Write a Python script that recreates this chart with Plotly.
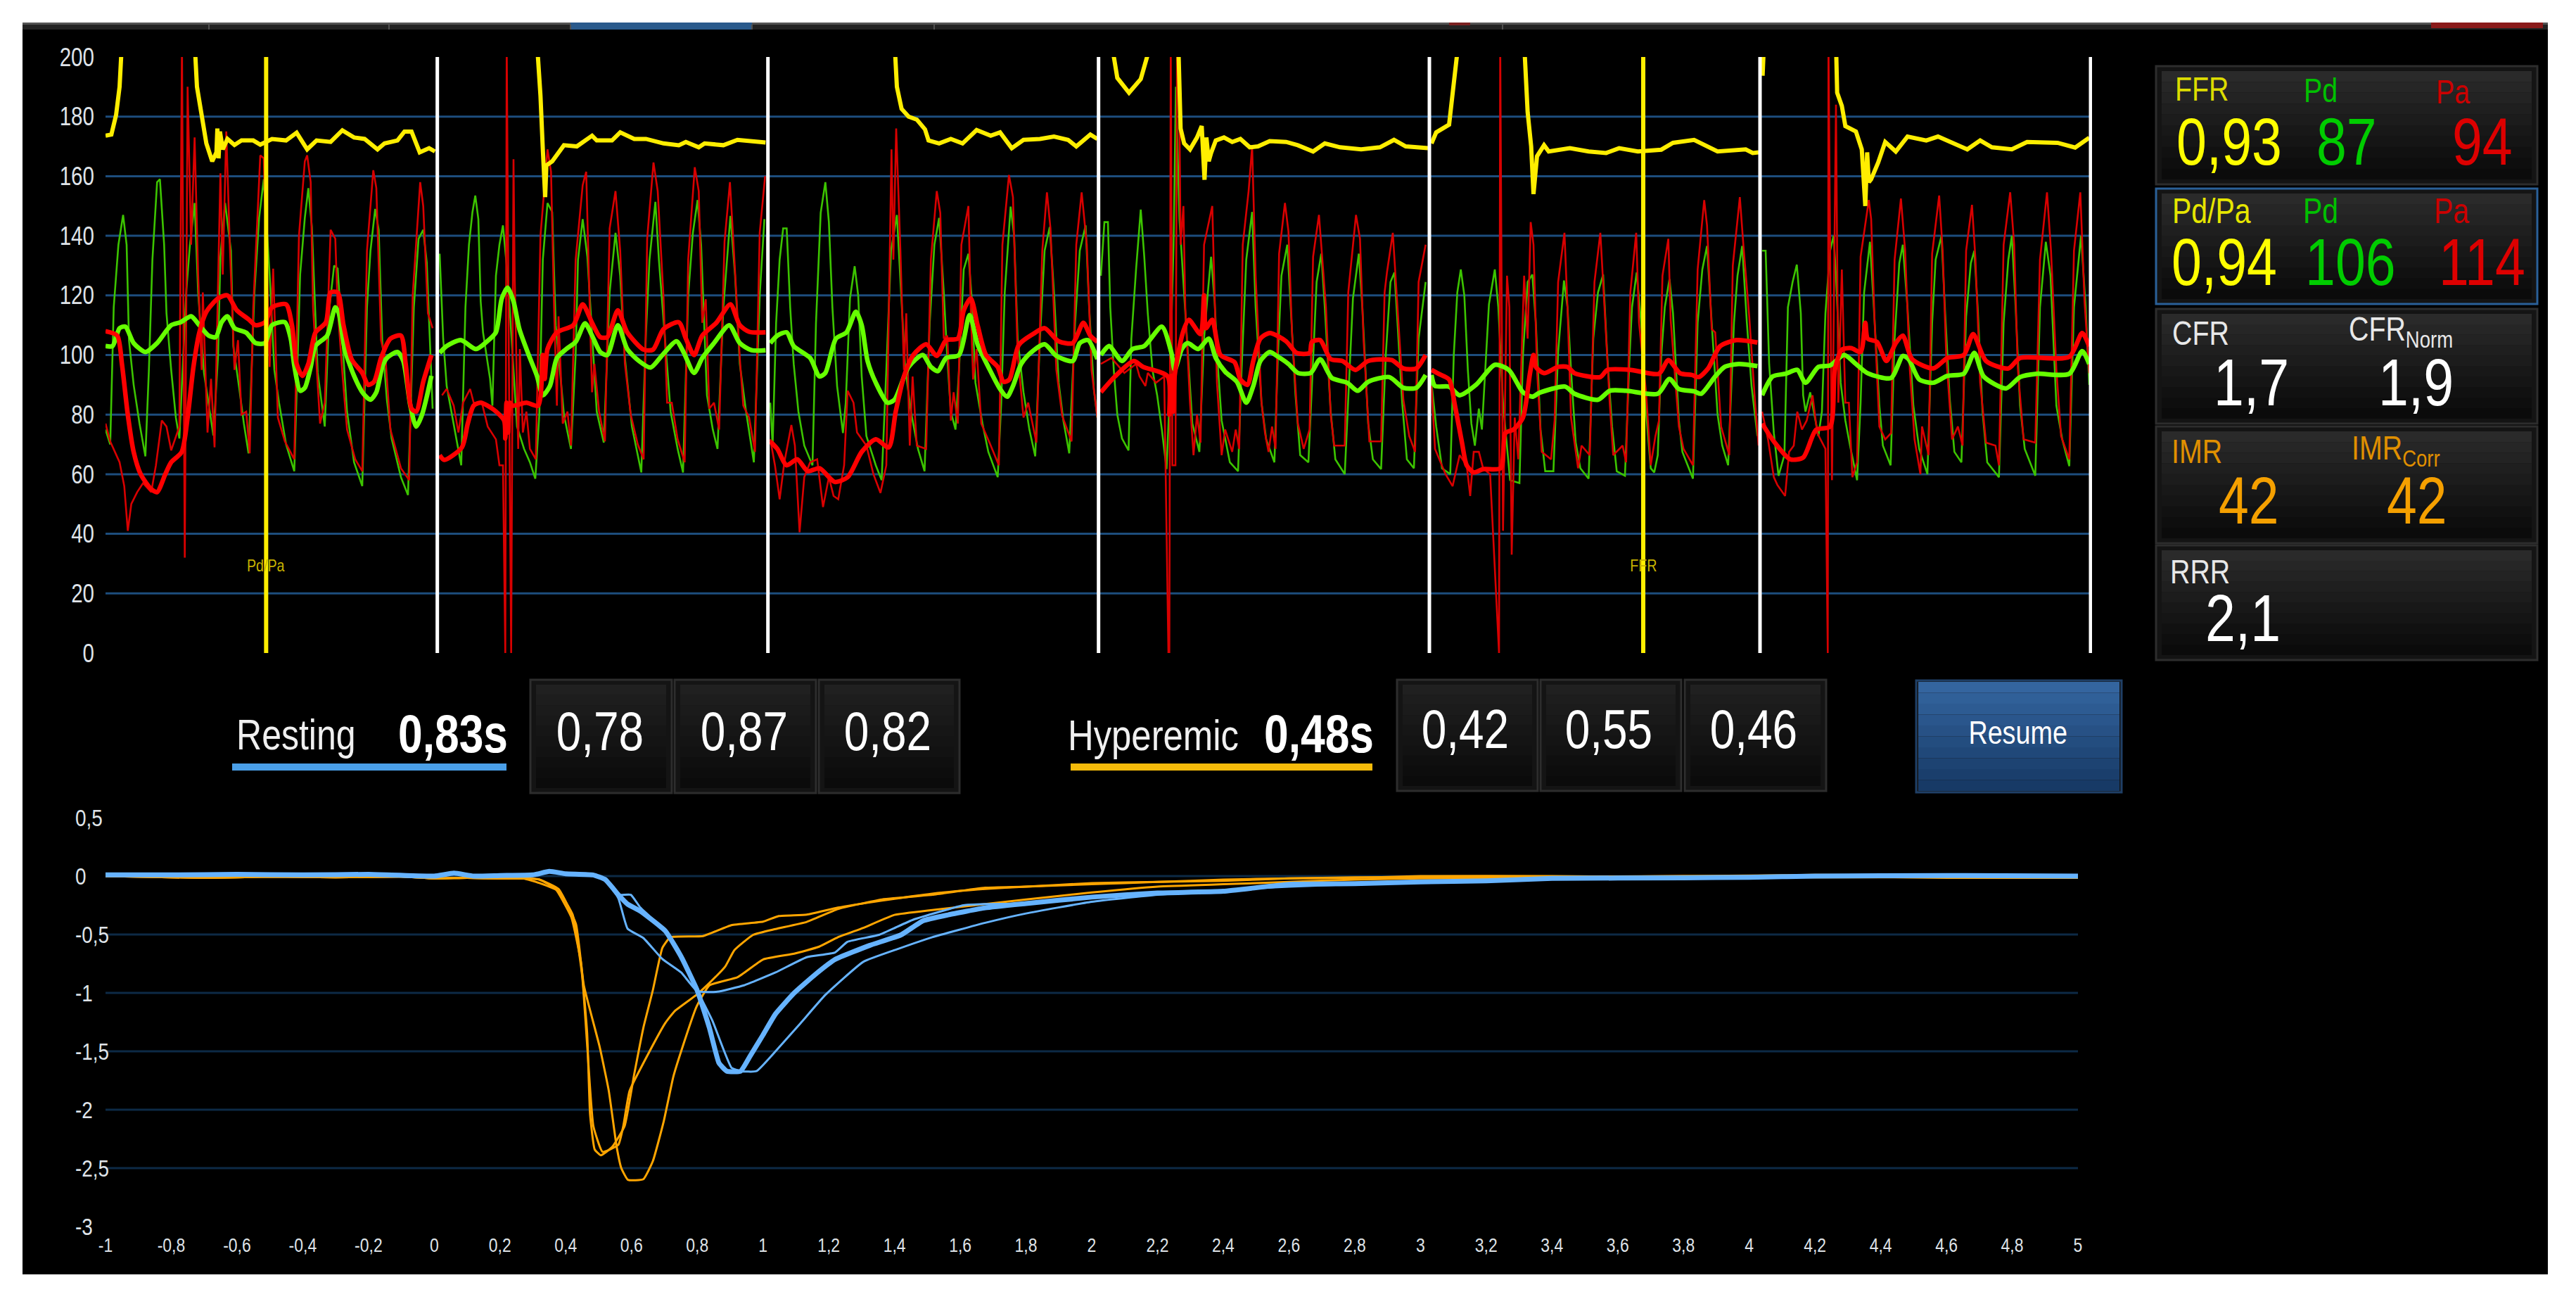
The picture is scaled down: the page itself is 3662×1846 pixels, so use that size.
import plotly.graph_objects as go

W, H = 3662, 1846
FONT = "Liberation Sans, Arial"

# ---------- pressure strip (x = sample number within a 10 s recording, y = mmHg) ----------
SEG_START = [0, 1425, 2835, 4245, 5655, 7065]
WHITE_SAMPLES = [1445, 2855, 4265, 5676, 7086, 8496]
MARKER_SAMPLES = [715, 6588]
MARKER_LABELS = ["Pd/Pa", "FFR"]
Y_TICKS = [0, 20, 40, 60, 80, 100, 120, 140, 160, 180, 200]
Y_GRID = [20, 40, 60, 80, 100, 120, 140, 160, 180]

S1_PD = [(30,75),(50,70),(65,116),(85,137),(105,147),(120,137),(130,105),(150,90),(175,77),(200,66),(215,95),(230,132),(250,158),(262,159),(280,137),(290,114),(310,95),(330,79),(345,72),(375,122),(390,137),(410,151),(425,121),(450,94),(490,73),(510,100),(520,133),(540,151),(565,135),(575,103),(600,89),(620,77),(640,67),(665,121),(685,146),(705,159),(730,127),(750,95),(770,84),(800,70),(835,61),(860,127),(880,146),(895,156),(910,143),(935,94),(965,76),(985,116),(1005,130),(1020,129),(1040,105),(1060,81),(1090,64),(1125,56),(1145,116),(1160,135),(1180,149),(1195,142),(1210,105),(1230,85),(1250,72),(1290,59),(1320,53),(1345,116),(1365,139),(1385,142),(1400,131),(1425,82)]
S1_PA = [(30,77),(50,71),(90,64),(110,56),(125,41),(140,50),(165,54),(190,57),(225,54),(245,63),(270,78),(290,76),(310,68),(345,76),(356,205),(368,32),(380,190),(395,137),(410,173),(425,127),(440,95),(445,121),(465,74),(480,92),(495,69),(520,161),(530,127),(545,175),(560,137),(580,95),(595,105),(610,80),(630,81),(645,67),(660,116),(690,167),(705,166),(720,120),(730,96),(745,129),(765,79),(795,71),(835,65),(855,140),(880,165),(890,167),(905,158),(915,116),(945,77),(965,84),(990,142),(1010,139),(1020,116),(1040,94),(1060,75),(1095,65),(1125,61),(1145,135),(1172,162),(1185,156),(1205,105),(1225,98),(1245,75),(1290,62),(1325,58),(1340,120),(1372,158),(1385,150),(1405,114),(1425,109)]
S1_PD_MEAN = [(30,103),(60,103),(90,109),(115,109.5),(150,104),(200,101),(250,104),(310,110),(350,111),(395,113),(430,110),(470,106.5),(500,106),(525,111),(550,113),(580,109),(630,107.5),(670,104),(710,104),(740,110),(795,111),(820,105.5),(835,96.5),(860,88),(880,89),(905,96),(925,103),(975,106.5),(1010,116),(1025,114),(1050,102),(1090,93),(1130,87),(1160,85),(1185,87.5),(1210,96),(1230,99),(1275,101),(1300,98),(1330,83),(1355,76),(1380,80),(1420,93)]
S1_PA_MEAN = [(30,108),(80,106.5),(100,97),(125,80),(150,67.5),(180,60),(225,55),(250,54),(285,60),(310,64),(355,67.5),(380,79),(405,96),(430,107.5),(460,114.5),(510,119),(550,120),(590,115),(640,112),(670,110),(710,111),(740,116),(800,117),(825,110),(845,97),(870,93),(895,97),(925,107.5),(970,111),(990,121),(1020,121),(1045,110),(1080,98.5),(1125,94),(1150,90),(1175,91),(1205,99),(1245,105.5),(1290,106.5),(1310,97),(1335,82),(1355,81),(1385,91),(1420,100)]
S1_RATIO = [(30,173.6),(55,174),(75,180.5),(90,190),(100,205),(410,205),(420,190),(440,180.5),(460,171),(485,165),(503,168),(507,176),(512,166),(518,175),(530,169),(550,172.5),(580,170.5),(610,172),(660,172),(690,170.6),(740,172.5),(800,172),(845,174.6),(890,169),(930,172),(990,171.5),(1040,175.4),(1090,173),(1135,172.5),(1190,169),(1220,171),(1275,172),(1305,175),(1335,175),(1370,168),(1410,169.4),(1435,168.3)]

S2_PD = [(30,134),(45,105.5),(60,89.6),(80,81),(100,71.7),(122,63),(140,116),(155,137),(170,148),(182,153.5),(195,145.6),(205,118),(215,107.6),(230,100),(245,92),(255,83),(270,126.6),(285,137),(300,143.5),(320,126.6),(345,95),(360,76),(390,68.5),(415,64),(438,58.5),(455,80),(470,132),(490,151),(510,148),(525,110),(545,93),(560,80),(590,68.5),(610,100),(620,132),(640,145.6),(660,133),(680,105.5),(700,81),(730,70.6),(755,121),(780,141),(800,126.6),(820,99),(850,76),(890,60.6),(910,107.6),(925,132),(950,151.4),(965,132),(990,105.5),(1015,81),(1045,68.5),(1068,60.6),(1090,120),(1110,141),(1130,152),(1145,137),(1170,86.5),(1195,75),(1215,68.5),(1240,116),(1270,146.7),(1290,126.6),(1310,97),(1335,82),(1370,64),(1395,120),(1415,145.6)]
S2_PA = [(40,86.5),(60,88.6),(90,83),(110,74),(130,84),(160,88.6),(175,84),(210,84),(235,76),(270,71.7),(285,63),(300,63),(310,0),(316,205),(325,100),(335,0),(345,165.7),(350,126.6),(365,68.5),(372,102),(385,74),(400,81),(415,68.5),(440,65),(460,140),(490,169),(505,161.5),(518,116),(530,83),(537,113),(555,77),(575,81),(590,69.6),(610,132),(640,157),(655,161.5),(670,116),(680,87.5),(690,97),(710,81),(735,71),(755,142.5),(780,155),(800,135),(820,97),(845,80),(875,70),(900,65),(915,139),(942,164.6),(960,155),(985,119),(1000,84),(1020,84),(1045,71.7),(1075,64),(1090,132),(1118,163),(1135,155),(1150,110.8),(1165,118.7),(1180,82),(1200,84),(1222,75),(1245,138),(1268,158),(1285,135),(1310,99),(1325,83),(1350,79),(1375,67.5),(1395,141),(1418,160)]
S2_PD_MEAN = [(30,100.7),(60,103),(120,105),(185,102),(230,104.4),(270,107.6),(295,119),(320,122.6),(345,118),(370,108.7),(410,100),(445,93),(470,86.5),(500,89.6),(530,99),(570,102),(610,104.4),(650,110.6),(680,106.5),(715,101),(745,100),(790,110),(830,102),(880,98),(930,95.8),(980,100),(1040,104.6),(1070,101),(1115,94),(1150,99),(1200,104),(1265,110),(1310,104),(1360,101.6),(1420,101.6)]
S2_PA_MEAN = [(30,66.4),(50,64.8),(125,69),(150,77),(175,83),(205,84),(260,81.7),(305,78),(310,72),(315,84),(322,74),(330,84),(340,83),(400,84),(450,83),(470,100),(478,92),(490,102),(530,107.6),(600,110),(640,117),(680,110.8),(715,106),(745,106),(790,115),(830,107.6),(900,101.8),(940,101.8),(985,108.7),(1050,111),(1080,105.5),(1115,100),(1150,106.5),(1210,110.8),(1270,117),(1310,110),(1350,107.8),(1420,107.6)]
S2_RATIO = [(445,205),(460,187),(470,169),(480,153),(485,163.6),(510,165),(560,170.4),(615,170),(680,173.6),(700,172),(765,172),(800,174.7),(860,172.5),(910,172.5),(985,171),(1050,170.4),(1080,171.5),(1135,169.7),(1160,171),(1240,170.4),(1300,172.2),(1330,172),(1420,171.3)]

S3_PD = [(30,84),(40,69.6),(55,110.8),(70,132),(85,142.5),(100,142.5),(115,116),(130,97),(150,81),(175,69.6),(210,63),(225,110.8),(245,147.7),(265,158),(280,144.6),(295,116),(315,89.6),(340,73.8),(352,84),(370,119),(390,129.8),(405,120),(420,92.8),(440,72.8),(480,63),(505,58),(525,95),(545,135),(570,147),(590,116),(605,96),(630,81),(660,68.5),(688,61),(710,110.8),(730,137),(750,146),(770,121),(785,99),(800,81),(820,75),(835,95),(855,128.7),(875,134),(890,118),(905,90.7),(935,77),(960,67.5),(1000,59),(1015,84),(1030,121),(1055,149.8),(1070,140),(1085,105.5),(1110,87.5),(1135,75),(1160,66),(1180,105.5),(1200,135),(1222,143),(1240,121),(1260,90.7),(1280,78),(1305,67),(1330,110.8),(1350,135),(1375,143.5),(1390,116),(1410,88.6),(1425,79)]
S3_PA = [(30,71.7),(50,63),(70,51.6),(90,64),(120,76.5),(135,69.6),(155,40.5),(175,59),(200,64),(230,65),(255,49),(280,59),(300,52.7),(320,51.6),(345,63),(360,88),(385,84),(400,74),(440,69.6),(470,60),(500,53.7),(525,63),(547,169),(555,132),(567,176),(585,135),(600,95),(610,114),(625,69.6),(637,92.8),(655,69.6),(695,68.5),(715,132),(740,155),(755,147.7),(770,105.5),(785,106.5),(800,78),(812,87.5),(830,77),(845,137),(875,150),(885,116),(895,91.8),(910,102),(930,77),(965,70.6),(1005,63),(1020,137),(1048,160.4),(1065,153),(1085,100),(1110,79),(1130,84),(1165,70.6),(1190,135),(1210,154.6),(1225,142.5),(1250,95),(1275,79.6),(1315,71),(1335,137),(1358,154.6),(1380,137),(1400,95),(1425,79)]
S3_PD_MEAN = [(30,104),(60,106.5),(100,107.6),(130,103),(200,99),(240,92.8),(265,94),(310,105.5),(355,107.6),(395,114.5),(420,110),(445,98),(480,90.7),(530,84),(560,85),(620,96),(680,100),(715,96),(745,94.6),(780,99),(835,100),(880,113.4),(915,103.4),(960,96),(1010,88.6),(1040,86),(1065,89.6),(1100,97),(1140,100.7),(1200,103.6),(1250,99.7),(1320,98),(1350,104),(1385,105),(1425,98.6)]
S3_PA_MEAN = [(30,71),(60,68.5),(100,63),(145,65),(190,61),(240,62),(305,57.4),(360,59),(420,67.5),(480,71.7),(535,69),(565,81),(600,92.8),(640,100),(695,103.6),(740,99.7),(780,105),(830,105.5),(855,115),(885,119),(915,109.7),(950,100),(1000,96),(1025,91),(1050,91.8),(1090,103.4),(1150,107),(1200,109),(1260,104.6),(1320,104),(1365,110.8),(1395,106.5),(1425,104.4)]
S3_RATIO = [(560,205),(570,190),(590,182.6),(620,180),(655,179),(690,175.7),(705,172),(750,171),(800,172.5),(850,171),(910,175.5),(970,173.6),(1010,174.7),(1060,169.4),(1110,172.2),(1180,172.5),(1240,173.3),(1300,172.2),(1335,170),(1395,174),(1425,172.5)]

S4_PD = [(30,126.6),(45,144.6),(60,144.6),(70,116),(85,95),(100,80),(120,72),(148,68),(160,105.5),(180,128.7),(200,148.8),(215,133),(230,114),(250,95),(270,86.5),(290,75),(310,61.7),(320,80),(340,137),(350,190),(365,145.6),(385,121),(405,95),(420,77),(450,67.5),(470,105.5),(485,120),(500,133),(515,118),(530,95),(545,78),(580,64),(615,61),(630,95),(650,132),(675,148),(690,116),(715,84),(735,71.7),(770,64),(785,100),(800,126.6),(825,137),(840,116),(860,86.5),(880,66.4),(915,64),(930,89.6),(950,124.5),(970,134),(985,116),(1010,81),(1030,65),(1070,60),(1085,86.5),(1105,119),(1130,134),(1145,116),(1170,77),(1190,65),(1225,61.7),(1245,100),(1265,124.5),(1282,127.7),(1295,110.8),(1315,84),(1335,65),(1365,62),(1385,105.5),(1415,124.5)]
S4_PA = [(30,97),(75,99),(130,94),(180,97),(195,92.8),(220,89.6),(230,94),(265,90.7),(300,92.8),(318,0),(322,0),(328,205),(335,63),(348,63),(355,205),(362,205),(370,137),(382,150),(390,116),(410,84),(425,66.4),(440,80),(455,70.6),(470,137),(505,150),(515,118),(525,90.7),(545,66.4),(560,75),(590,67.5),(605,75),(620,68.5),(635,137),(660,155),(675,170),(690,126.6),(715,84),(730,73.8),(745,67.5),(760,76),(775,68.5),(790,134),(815,151),(830,141.4),(845,107.6),(870,77),(895,68.5),(920,75),(935,133),(960,147),(975,132),(990,116),(1010,80),(1025,69.6),(1070,69.6),(1085,121),(1118,147),(1135,139),(1150,105.5),(1175,71),(1225,71),(1240,121),(1250,127.7),(1275,141),(1295,116),(1320,85),(1345,72.8),(1370,67.5),(1385,124.5),(1415,137)]
S4_PD_MEAN = [(30,100),(65,103),(120,98),(165,102),(215,103),(290,109.5),(330,101),(345,95),(375,102),(400,104),(445,102),(490,105.5),(520,99),(560,94.4),(610,91),(650,84),(680,89.6),(710,98),(750,101),(780,99.7),(830,97),(870,94),(925,94),(965,98.6),(1015,92.3),(1080,90.7),(1125,88),(1170,91),(1260,92.6),(1320,89),(1375,89),(1415,93.3)]
S4_PA_MEAN = [(30,87.5),(90,92.8),(170,98),(210,96),(315,92.8),(322,80),(330,93),(338,81),(345,93.3),(380,107.6),(405,111.8),(455,107),(470,120),(478,109),(505,111.8),(540,100),(600,97.6),(625,91.8),(655,90),(680,98),(710,105.5),(750,107.4),(820,104.6),(865,100.7),(920,100.7),(930,104.4),(965,105),(1010,98.6),(1060,98),(1115,95),(1170,98),(1270,98.3),(1320,95.5),(1375,95.5),(1415,100)]
S4_RATIO = [(75,205),(100,193),(150,188),(200,192.6),(245,205),(360,205),(370,176),(385,171),(410,169),(440,173),(460,176.8),(472,158.8),(480,173),(490,165),(500,167.8),(520,172),(555,173),(590,171.5),(625,172.5),(665,169.7),(700,170),(750,171.8),(820,171.5),(870,170.4),(935,168.3),(985,171),(1050,169.7),(1140,169),(1220,169.7),(1280,172.2),(1330,170),(1400,169.4),(1425,169.4)]

S5_PD = [(30,90.7),(50,76),(75,62),(110,60),(125,100),(140,121),(155,128.7),(170,120),(185,95),(200,77),(215,69.6),(232,82),(245,75),(260,95),(275,117),(300,128.7),(315,116),(335,84),(365,58),(405,57),(420,100),(440,124.5),(460,127),(475,110.8),(495,75),(515,61),(550,61),(570,101),(595,125),(610,116),(625,95),(645,70.6),(665,62),(700,58.5),(720,105.5),(740,121),(762,127),(780,99),(800,76),(820,61),(855,59.5),(875,100),(885,116),(905,127.7),(925,110),(945,81),(965,62),(980,60.6),(995,66.4),(1010,100),(1025,116),(1045,125.5),(1060,114),(1085,78),(1100,67.5),(1145,58.5),(1165,110.8),(1185,128.7),(1205,136.6),(1225,110.8),(1250,80),(1270,69.6),(1295,63),(1320,110.8),(1335,126.6),(1355,136.6),(1375,110.8),(1395,89.6),(1420,72.8)]
S5_PA = [(30,89.6),(45,68.5),(90,60),(120,56),(150,66.4),(180,63),(195,52.7),(210,67.5),(232,67.5),(250,62),(280,60),(318,0),(323,205),(335,41),(352,126.6),(362,116),(372,33),(385,79),(400,65),(425,126.6),(440,105.5),(453,144.6),(465,137),(480,95),(500,67.5),(540,65),(555,78),(570,124.5),(597,141),(610,116),(625,79),(655,62),(670,69.6),(705,66.4),(725,124.5),(750,141),(770,113),(790,84),(805,66.4),(845,69.6),(860,64),(878,121),(903,141),(915,110.8),(945,87.5),(965,63),(985,72.8),(1000,78),(1015,126.6),(1040,139),(1050,111.8),(1085,76),(1105,68.5),(1145,63),(1165,128.7),(1193,152),(1205,143.5),(1225,108.7),(1240,107.6),(1265,76),(1300,66.4),(1315,130),(1345,153),(1360,137),(1385,113),(1410,84),(1425,69.6)]
S5_PD_MEAN = [(30,93.3),(45,89.6),(105,89.4),(150,86.5),(220,90),(300,96.7),(360,95),(420,87.5),(460,86),(490,87.3),(600,89.4),(640,87),(740,85),(790,88),(860,88),(995,87),(1045,92),(1085,88.6),(1150,87.8),(1180,87),(1240,92.8),(1280,96),(1340,97),(1420,96.3)]
S5_PA_MEAN = [(30,95),(60,93.7),(105,91.8),(130,83),(160,70.6),(180,63),(210,60.6),(250,61.7),(325,62),(345,73.8),(380,75),(420,79),(450,93.9),(465,100),(475,96),(510,93.9),(570,96),(610,96),(640,93.9),(750,92.6),(780,95),(880,95),(1000,93.7),(1040,98.3),(1090,93.9),(1140,93.3),(1170,92.6),(1210,95.5),(1260,102.9),(1330,105),(1420,104.2)]
S5_RATIO = [(30,171),(50,174.7),(105,177.3),(120,186.8),(145,205),(425,205),(440,181.5),(455,170),(465,154),(480,166.7),(510,170.4),(530,168.3),(620,169.4),(700,168.3),(775,167.8),(830,169.4),(910,168.3),(1010,168.9),(1060,171.2),(1150,172.2),(1250,168.3),(1370,169),(1400,167.8),(1425,168)]

S6_PD = [(30,135),(45,135),(60,97),(80,73.8),(100,59.5),(125,66.4),(140,116),(160,124.5),(178,130.3),(195,114),(205,86.5),(215,81),(235,87.5),(270,72.8),(285,81),(300,114),(320,135),(335,140),(345,126.6),(365,90.7),(385,78),(405,69.6),(435,58),(450,84),(465,121),(490,138),(505,118),(530,83),(545,69.6),(578,63),(595,105.5),(615,130.8),(630,137),(650,116),(675,83),(700,68.5),(735,60),(755,110.8),(770,132),(795,140),(810,115),(830,85.4),(850,67.5),(880,64),(900,112.9),(920,130.8),(935,135),(950,115),(970,81),(990,64),(1040,59),(1060,110.8),(1080,132),(1095,140),(1110,118),(1130,83),(1150,68.5),(1195,59.5),(1215,116),(1240,138),(1260,126.6),(1285,83),(1310,71.7),(1340,62.7),(1360,116),(1390,140),(1410,116),(1425,90)]
S6_PA = [(30,81),(55,71.7),(80,59),(95,56.4),(128,52.7),(145,67.5),(165,69.6),(180,81),(200,75),(220,78),(245,86.5),(265,73.8),(300,68.5),(310,0),(313,205),(328,58),(345,184),(355,84),(370,128.7),(385,84),(400,84),(415,59),(435,64),(450,133),(485,152),(495,145.6),(510,110.8),(530,76),(555,71.7),(580,73.8),(595,132),(622,152.5),(640,135),(660,95),(680,71.7),(705,60),(712,76),(740,66.4),(755,134),(785,153.5),(800,135),(815,100),(840,71.7),(865,76),(885,69.6),(900,135),(925,150.4),(940,132),(960,90.7),(985,70.6),(1025,69.6),(1040,63),(1060,137),(1088,154.6),(1105,137),(1120,96),(1145,71.7),(1195,70.6),(1215,132),(1245,154.6),(1262,135),(1285,95),(1305,72.8),(1340,65),(1360,135),(1387,154.6),(1405,118),(1425,93.9)]
S6_PD_MEAN = [(30,86.5),(75,92.8),(130,93.7),(180,95),(215,90.7),(270,96),(320,96.5),(380,100),(430,97),(480,93.9),(580,92.3),(630,99.7),(655,98.6),(700,91.8),(760,90.7),(820,93),(890,93.7),(935,100.7),(975,92.8),(1070,88.8),(1130,92.6),(1200,93.7),(1340,93.7),(1395,101.3),(1425,97)]
S6_PA_MEAN = [(30,77),(80,71),(150,65),(205,65.6),(260,74.9),(320,76),(340,95),(370,101.8),(410,102.3),(450,101),(470,110.8),(480,105.5),(520,104.4),(560,98),(600,104),(630,106.5),(670,98.6),(760,95.5),(820,99),(890,100),(930,107),(985,98),(1080,95.5),(1130,99),(1340,99.4),(1395,107.4),(1425,102.9)]
S6_RATIO = [(32,193.7),(38,205),(320,205),(345,205),(350,188),(370,183.6),(385,176.8),(430,175),(455,169),(470,150),(478,168),(485,158),(495,159),(525,164.6),(555,171.5),(600,168.3),(650,173.3),(730,172),(780,173.3),(850,171),(905,169),(960,172),(1010,169.7),(1095,169),(1160,171.5),(1290,171.2),(1365,169.6),(1425,172.9)]

PD_THIN = [S1_PD, S2_PD, S3_PD, S4_PD, S5_PD, S6_PD]
PA_THIN = [S1_PA, S2_PA, S3_PA, S4_PA, S5_PA, S6_PA]
PD_MEAN = [S1_PD_MEAN, S2_PD_MEAN, S3_PD_MEAN, S4_PD_MEAN, S5_PD_MEAN, S6_PD_MEAN]
PA_MEAN = [S1_PA_MEAN, S2_PA_MEAN, S3_PA_MEAN, S4_PA_MEAN, S5_PA_MEAN, S6_PA_MEAN]
RATIO = [S1_RATIO, S2_RATIO, S3_RATIO, S4_RATIO, S5_RATIO, S6_RATIO]

# ---------- thermodilution curves (x = seconds, y = relative value) ----------
X2_TICKS = [-1,-0.8,-0.6,-0.4,-0.2,0,0.2,0.4,0.6,0.8,1,1.2,1.4,1.6,1.8,2,2.2,2.4,2.6,2.8,3,3.2,3.4,3.6,3.8,4,4.2,4.4,4.6,4.8,5]
Y2_TICKS = [0.5,0,-0.5,-1,-1.5,-2,-2.5,-3]
Y2_GRID = [0,-0.5,-1,-1.5,-2,-2.5]

HYP_TAIL_A = [(1.8,-.09),(2,-.07),(2.2,-.05),(2.4,-.04),(2.6,-.02),(2.8,-.01),(3,-.01),(3.4,-.005),(3.8,0),(4.2,.01),(4.6,.005),(5,-.01)]
HYP_TAIL_B = [(1.8,-.09),(2,-.06),(2.2,-.05),(2.4,-.03),(2.6,-.02),(2.8,-.015),(3,.0),(3.4,.0),(3.8,-.01),(4.2,.0),(4.6,-.015),(5,-.015)]
HYP_TAIL_C = [(1.8,-.2),(2,-.14),(2.2,-.09),(2.4,-.07),(2.6,-.05),(2.8,-.03),(3,-.02),(3.4,-.01),(3.8,.0),(4.2,-.01),(4.6,-.01),(5,-.005)]
HYP_LEAD = [(-1,0),(-.7,-.015),(-.5,-.005),(-.3,-.01),(-.1,-.005),(0,-.02),(.1,-.015),(.2,-.02),(.27,-.02)]

HYP_1 = HYP_LEAD + [(.32,-.03),(.369,-.11),(.417,-.352),(.446,-.734),(.465,-1.34),(.474,-2.04),(.488,-2.34),(.507,-2.39),(.541,-2.32),(.579,-2.14),(.608,-1.70),(.636,-1.30),(.665,-.976),(.694,-.614),(.718,-.523),(.818,-.513),(.904,-.42),(1.0,-.39),(1.048,-.342),(1.133,-.33),(1.228,-.27),(1.362,-.21),(1.515,-.15),(1.676,-.11)] + HYP_TAIL_A
HYP_2 = HYP_LEAD + [(.32,-.06),(.378,-.13),(.421,-.33),(.45,-.855),(.465,-1.44),(.484,-2.14),(.512,-2.36),(.56,-2.30),(.575,-2.14),(.594,-1.84),(.655,-1.5),(.703,-1.257),(.731,-1.157),(.798,-1.016),(.837,-.915),(.885,-.775),(.913,-.634),(.97,-.503),(1.038,-.453),(1.133,-.392),(1.228,-.282),(1.362,-.2),(1.515,-.16),(1.676,-.10)] + HYP_TAIL_B
HYP_3 = HYP_LEAD + [(.32,-.03),(.378,-.11),(.431,-.41),(.455,-.935),(.503,-1.46),(.531,-1.84),(.555,-2.32),(.569,-2.5),(.589,-2.6),(.636,-2.595),(.665,-2.44),(.698,-2.10),(.727,-1.72),(.751,-1.5),(.798,-1.117),(.837,-.935),(.923,-.865),(1.0,-.714),(1.095,-.664),(1.171,-.604),(1.228,-.523),(1.305,-.443),(1.4,-.332),(1.515,-.29),(1.676,-.24)] + HYP_TAIL_C

REST_LEAD = [(-1,.01),(-.8,.01),(-.6,.015),(-.4,.01),(-.2,.015),(0,0),(.06,.025),(.12,0),(.2,.005),(.3,.01),(.35,.04),(.4,.02),(.483,.01),(.52,-.03)]
REST_TAIL_A = [(1.8,-.235),(2,-.18),(2.2,-.145),(2.4,-.13),(2.6,-.07),(2.8,-.065),(3,-.05),(3.2,-.04),(3.4,-.02),(3.8,-.015),(4,-.01),(4.2,0),(4.6,.005),(5,0)]
REST_TAIL_B = [(1.8,-.32),(2,-.22),(2.2,-.16),(2.4,-.12),(2.6,-.09),(2.8,-.07),(3,-.05),(3.4,-.02),(3.8,-.015),(4.2,0),(4.6,.005),(5,0)]

REST_1 = REST_LEAD + [(.56,-.16),(.588,-.24),(.627,-.30),(.703,-.47),(.751,-.69),(.80,-.98),(.837,-1.30),(.866,-1.60),(.89,-1.67),(.932,-1.67),(.961,-1.54),(1.0,-1.36),(1.038,-1.18),(1.095,-1.0),(1.162,-.835),(1.219,-.714),(1.324,-.594),(1.42,-.503),(1.487,-.382),(1.563,-.332),(1.676,-.272)] + REST_TAIL_A
REST_2 = REST_LEAD + [(.56,-.16),(.598,-.16),(.627,-.27),(.703,-.47),(.751,-.69),(.80,-.98),(.846,-1.237),(.904,-1.64),(.932,-1.67),(.98,-1.67),(1.038,-1.5),(1.114,-1.26),(1.19,-1.016),(1.305,-.734),(1.41,-.624),(1.515,-.523),(1.676,-.40)] + REST_TAIL_B
REST_3 = REST_LEAD + [(.56,-.19),(.588,-.45),(.636,-.53),(.694,-.71),(.751,-.825),(.80,-.985),(.861,-.99),(.942,-.935),(1.038,-.825),(1.133,-.694),(1.219,-.654),(1.257,-.563),(1.353,-.503),(1.458,-.372),(1.61,-.25),(1.676,-.24)] + REST_TAIL_A

# ---------- read-outs ----------
RESTING_TIMES = ["0,78", "0,87", "0,82"]
HYPEREMIC_TIMES = ["0,42", "0,55", "0,46"]
READOUTS = [
    ("FFR", 3091, 126, 48, "#dcdc00"), ("Pd", 3274, 128, 48, "#00c000"), ("Pa", 3462, 130, 48, "#cc0000"),
    ("0,93", 3093, 202, 94, "#ffff00"), ("87", 3292, 202, 94, "#00cc00"), ("94", 3485, 202, 94, "#dd0000"),
    ("Pd/Pa", 3087, 300, 50, "#e6e600"), ("Pd", 3273, 300, 50, "#00c000"), ("Pa", 3459, 300, 50, "#cc0000"),
    ("0,94", 3086, 372, 94, "#ffff00"), ("106", 3276, 372, 94, "#00cc00"), ("114", 3466, 372, 94, "#dd0000"),
    ("CFR", 3087, 473, 48, "#e8e8e8"), ("CFR<sub>Norm</sub>", 3338, 471, 48, "#e8e8e8"),
    ("1,7", 3146, 544, 94, "#ffffff"), ("1,9", 3380, 544, 94, "#ffffff"),
    ("IMR", 3086, 641, 48, "#e09000"), ("IMR<sub>Corr</sub>", 3342, 640, 48, "#e09000"),
    ("42", 3153, 711, 94, "#f5a000"), ("42", 3392, 711, 94, "#f5a000"),
    ("RRR", 3084, 812, 48, "#e8e8e8"), ("2,1", 3134, 878, 94, "#ffffff"),
]

# ---------- layout helpers (pixel geometry of the screen) ----------
def fx(px): return px / W
def fy(py): return 1 - py / H

shapes, annos = [], []

def rect(x0, y0, x1, y1, fill, line=None, lw=0):
    shapes.append(dict(type="rect", xref="paper", yref="paper", layer="below",
                       x0=fx(x0), x1=fx(x1), y0=fy(y1), y1=fy(y0), fillcolor=fill,
                       line=dict(color=line or fill, width=lw)))

def hexmix(c0, c1, f):
    a = [int(c0[i:i+2], 16) for i in (1, 3, 5)]
    b = [int(c1[i:i+2], 16) for i in (1, 3, 5)]
    return "#%02x%02x%02x" % tuple(int(p + (q - p) * f) for p, q in zip(a, b))

def panel(x0, y0, x1, y1, top="#2a2a2a", bot="#0b0b0b", border="#2d2d2d", lw=3, inset=8):
    rect(x0, y0, x1, y1, "#141414", border, lw)
    n = 10
    ix0, ix1, iy0, iy1 = x0 + inset, x1 - inset, y0 + inset - 1, y1 - inset + 1
    for i in range(n):
        rect(ix0, iy0 + (iy1 - iy0) * i / n, ix1, iy0 + (iy1 - iy0) * (i + 1) / n, hexmix(top, bot, i / (n - 1)))

def label(text, x, y, size, color, anchor="left", bold=False):
    annos.append(dict(text=f"<b>{text}</b>" if bold else text, xref="paper", yref="paper",
                      x=fx(x), y=fy(y), xanchor=anchor, yanchor="middle", showarrow=False,
                      borderpad=0, font=dict(family=FONT, size=size, color=color)))

# screen background and tab strip
rect(32, 32, 3622, 1811, "#000000")
rect(32, 32, 3622, 42, "#232323")
rect(32, 32, 3622, 35, "#555555")
rect(811, 32, 1069, 42, "#2a5a8c")
rect(2060, 32, 2090, 36, "#7a2020")
rect(3456, 32, 3615, 40, "#8a1a1a")
for sep in [297, 553, 811, 1069, 1328, 2136]:
    rect(sep - 1, 35, sep + 1, 42, "#505050")

# right read-out panels
panel(3065, 94, 3607, 262)
panel(3065, 268, 3607, 432, border="#2a6098")
panel(3065, 439, 3607, 602)
panel(3065, 606, 3607, 772)
panel(3065, 775, 3607, 938)
for t, x, y, s, c in READOUTS:
    label(t, x, y, s, c)

# time buttons
for (x0, x1), t in zip([(754, 955), (959, 1160), (1164, 1364)], RESTING_TIMES):
    panel(x0, 966, x1, 1127, top="#202020", bot="#0b0b0b")
    label(t, (x0 + x1) / 2 - 2, 1039, 78, "#ffffff", "center")
for (x0, x1), t in zip([(1986, 2186), (2190, 2390), (2395, 2596)], HYPEREMIC_TIMES):
    panel(x0, 966, x1, 1124, top="#202020", bot="#0b0b0b")
    label(t, (x0 + x1) / 2 - 3, 1036, 78, "#ffffff", "center")
panel(2724, 967, 3016, 1126, top="#34659f", bot="#173a66", border="#1f3f66", inset=3)
label("Resume", 2868, 1041, 46, "#ffffff", "center")

label("Resting", 335, 1044, 61, "#f0f0f0")
label("0,83s", 565, 1042, 76, "#ffffff", bold=True)
rect(330, 1085, 720, 1095, "#4a9fe8")
label("Hyperemic", 1517, 1044, 62, "#f0f0f0")
label("0,48s", 1796, 1042, 76, "#ffffff", bold=True)
rect(1522, 1085, 1951, 1095, "#f5bb0a")

# gridlines through the axes' own scales
for v in Y_GRID:
    shapes.append(dict(type="line", xref="x", yref="y", layer="below", x0=30, x1=8502, y0=v, y1=v,
                       line=dict(color="#1d4d7d", width=3)))
for v in Y2_GRID:
    shapes.append(dict(type="line", xref="x2", yref="y2", layer="below", x0=-1, x1=5, y0=v, y1=v,
                       line=dict(color="#0d2a46", width=3)))

fig = go.Figure()

def joined(series):
    xs, ys = [], []
    for start, pts in zip(SEG_START, series):
        xs += [start + p[0] for p in pts] + [None]
        ys += [p[1] for p in pts] + [None]
    return xs, ys

for name, series, color, width, shape in [
    ("Pd", PD_THIN, "#3cc400", 2.6, "linear"),
    ("Pa", PA_THIN, "#d80000", 2.6, "linear"),
    ("Pd/Pa", RATIO, "#ffee00", 6, "linear"),
    ("Pd mean", PD_MEAN, "#66ff00", 6.5, "spline"),
    ("Pa mean", PA_MEAN, "#ff0000", 6.5, "spline"),
]:
    xs, ys = joined(series)
    fig.add_trace(go.Scatter(x=xs, y=ys, mode="lines", name=name, xaxis="x", yaxis="y",
                             line=dict(color=color, width=width, shape=shape, smoothing=0.7 if shape == "spline" else None)))

for s in WHITE_SAMPLES:
    fig.add_trace(go.Scatter(x=[s, s], y=[0, 200], mode="lines", xaxis="x", yaxis="y",
                             line=dict(color="#ffffff", width=5)))
for s, t in zip(MARKER_SAMPLES, MARKER_LABELS):
    fig.add_trace(go.Scatter(x=[s, s], y=[0, 200], mode="lines", xaxis="x", yaxis="y",
                             line=dict(color="#ffee00", width=6)))
    annos.append(dict(text=t, xref="x", yref="y", x=s, y=29.5, showarrow=False, borderpad=0,
                      font=dict(family=FONT, size=24, color="#c8b400")))

for name, pts in [("Hyperemic 1", HYP_1), ("Hyperemic 2", HYP_2), ("Hyperemic 3", HYP_3)]:
    fig.add_trace(go.Scatter(x=[p[0] for p in pts], y=[p[1] for p in pts], mode="lines", name=name,
                             xaxis="x2", yaxis="y2", line=dict(color="#ffa500", width=3, shape="spline", smoothing=0.4)))
for name, pts, w in [("Resting 3", REST_3, 3), ("Resting 2", REST_2, 3), ("Resting 1", REST_1, 7)]:
    fig.add_trace(go.Scatter(x=[p[0] for p in pts], y=[p[1] for p in pts], mode="lines", name=name,
                             xaxis="x2", yaxis="y2", line=dict(color="#66b3ff", width=w, shape="spline", smoothing=0.4)))

def comma(v):
    return ("%g" % v).replace(".", ",")

tick_font = dict(family=FONT, color="#dfe3e8")
fig.update_layout(
    width=W, height=H, autosize=False, showlegend=False,
    paper_bgcolor="#ffffff", plot_bgcolor="rgba(0,0,0,0)",
    margin=dict(l=0, r=0, t=0, b=0, autoexpand=False),
    shapes=shapes, annotations=annos,
    xaxis=dict(domain=[fx(150), fx(2974)], range=[30, 8502], visible=False, anchor="y"),
    yaxis=dict(domain=[fy(928), fy(81)], range=[0, 200], tickvals=Y_TICKS, ticktext=[str(v) for v in Y_TICKS],
               showgrid=False, zeroline=False, showline=False, ticks="", anchor="free", position=fx(134),
               side="left", tickfont=dict(size=36, **tick_font)),
    xaxis2=dict(domain=[fx(150), fx(2954)], range=[-1, 5], tickvals=X2_TICKS, ticktext=[comma(v) for v in X2_TICKS],
                showgrid=False, zeroline=False, showline=False, ticks="", anchor="y2", tickangle=0, ticklabelstandoff=7,
                tickfont=dict(size=28, **tick_font)),
    yaxis2=dict(domain=[fy(1743), fy(1162)], range=[-3, 0.5], tickvals=Y2_TICKS, ticktext=[comma(v) for v in Y2_TICKS],
                showgrid=False, zeroline=False, showline=False, ticks="", anchor="free", position=fx(106),
                side="right", tickfont=dict(size=34, **tick_font)),
)

# The screen's typeface is condensed; no narrow font is installed, so the real text is drawn 82 % wide.
# Annotation text is centred in its box, so left-anchored labels are moved back to their left edge.
SQUEEZE = """
document.body.style.margin='0';document.body.style.overflow='hidden';
var squeeze=function(){
  var gd=document.querySelector('.js-plotly-plot');
  document.querySelectorAll('svg text').forEach(function(t){
    if(t.dataset.sq)return;var n=t.getComputedTextLength();if(!n)return;
    t.setAttribute('textLength',(n*0.82).toFixed(1));t.setAttribute('lengthAdjust','spacingAndGlyphs');t.dataset.sq='1';
    var a=t.closest('.annotation');
    if(a&&gd&&gd.layout.annotations[+a.getAttribute('data-index')].xanchor==='left'){
      t.setAttribute('transform','translate('+(-n*0.09).toFixed(1)+',0)');}
  });};
squeeze();setTimeout(squeeze,50);setTimeout(squeeze,300);window.addEventListener('load',squeeze);
"""
fig.write_html("out.html", config={"displayModeBar": False}, post_script=SQUEEZE)
